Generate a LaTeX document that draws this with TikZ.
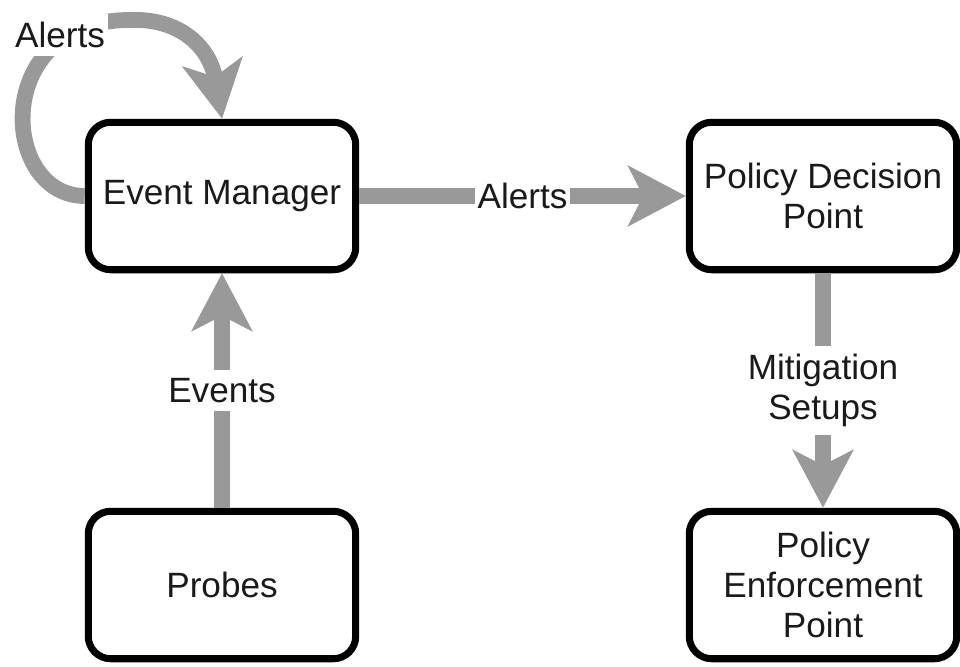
\documentclass[tikz,border=0pt]{standalone}
\usepackage{fontspec}
\setmainfont{Liberation Sans}
\usepackage{xcolor}
\usetikzlibrary{arrows.meta,positioning}
\definecolor{flowgray}{RGB}{153,153,153}
\definecolor{inkgray}{RGB}{26,26,26}

\begin{document}
\begin{tikzpicture}[
      x=0.02cm, y=-0.02cm,
      >={Stealth[length=1.15cm, width=1.2cm, inset=0.3cm]},
      box/.style={draw=black, line width=4pt, rounded corners=0.45cm, fill=white,
        text=inkgray, align=center, minimum width=5.35cm, minimum height=2.95cm,
        font=\fontsize{20}{23}\selectfont},
      flow/.style={->, line width=9pt, draw=flowgray},
      lbl/.style={fill=white, text=inkgray, align=center, inner xsep=1.5pt,
        inner ysep=4.5pt, font=\fontsize{20}{23}\selectfont}]
    \path[use as bounding box, fill=white] (0,0) rectangle (960,666);
    \node[box] (manager) at (222,196) {Event Manager};
    \node[box] (pdp) at (823,196) {Policy Decision\\Point};
    \node[box] (probes) at (222,585) {Probes};
    \node[box] (pep) at (823,585) {Policy\\Enforcement\\Point};

    \draw[flow] (manager) -- node[lbl] {Alerts} (pdp);
    \draw[flow] (probes) -- node[lbl] {Events} (manager);
    \draw[flow] (pdp) -- node[lbl] {Mitigation\\Setups} (pep);

    % feedback loop on the event manager
    \draw[flow] (manager.west) .. controls (0,196) and (-10,20) .. (130,20)
      .. controls (180,18) and (210,47) .. (manager.north);
    \node[lbl] (loopnote) at (60,35) {Alerts};
  \end{tikzpicture}
\end{document}
